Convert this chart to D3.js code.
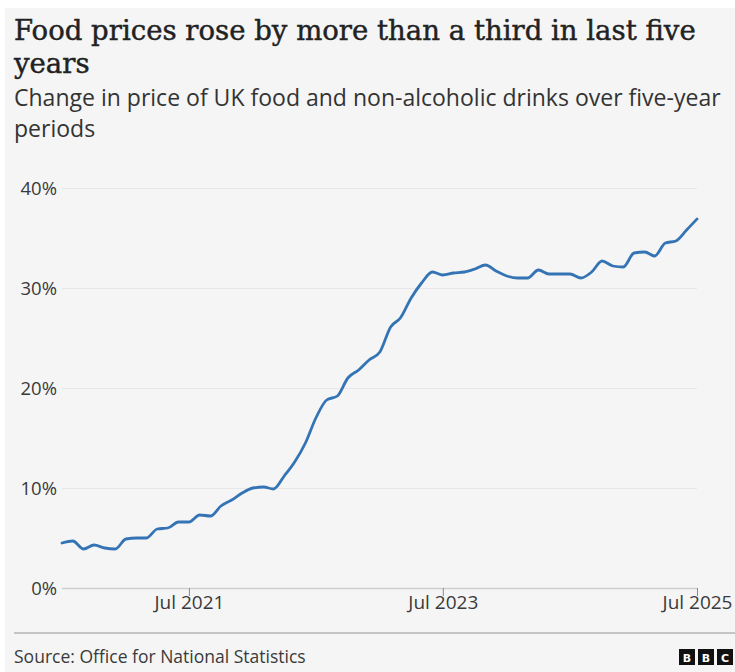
<!DOCTYPE html>
<html>
<head>
<meta charset="utf-8">
<script src="https://cdn.jsdelivr.net/npm/d3@7"></script>
<style>
  html, body { margin: 0; padding: 0; background: #ffffff; }
  svg { display: block; }
</style>
</head>
<body>
<svg id="chart" width="735" height="672"></svg>
<script>
// ---------- DATA ----------
const titleLines = ["Food prices rose by more than a third in last five", "years"];
const subtitleLines = ["Change in price of UK food and non-alcoholic drinks over five-year", "periods"];
const sourceText = "Source: Office for National Statistics";

const startMonth = "2020-07";
const endMonth = "2025-07";
// % change vs five years earlier, monthly Jul 2020 .. Jul 2025
const values = [
  4.5, 4.7, 3.9, 4.3, 4.0, 3.9, 4.9, 5.0, 5.0, 5.9, 6.0, 6.6,
  6.6, 7.3, 7.2, 8.2, 8.8, 9.5, 10.0, 10.1, 9.9, 11.2, 12.6, 14.5,
  17.0, 18.8, 19.2, 21.0, 21.8, 22.8, 23.6, 26.1, 27.0, 29.0, 30.5, 31.6,
  31.3, 31.5, 31.6, 31.9, 32.3, 31.7, 31.2, 31.0, 31.0, 31.8, 31.4, 31.4,
  31.4, 31.0, 31.6, 32.7, 32.2, 32.1, 33.5, 33.6, 33.2, 34.5, 34.7, 35.8,
  36.9
];
const yTicks = [0, 10, 20, 30, 40];
const xTickDates = ["2021-07", "2023-07", "2025-07"];
const xTickLabels = ["Jul 2021", "Jul 2023", "Jul 2025"];

// ---------- SETUP ----------
const parse = d3.timeParse("%Y-%m");
const months = d3.timeMonth.range(parse(startMonth), d3.timeMonth.offset(parse(endMonth), 1));
const data = months.map((d, i) => ({ date: d, value: values[i] }));

const svg = d3.select("#chart");
const W = 735, H = 672;
const serif = "'DejaVu Serif', 'Liberation Serif', serif";
const sans = "'Open Sans', 'Noto Sans', sans-serif";
const textCol = "#222222";
const axisCol = "#3a3a3a";

// panel background
svg.append("rect").attr("x", 5).attr("y", 8).attr("width", W - 5).attr("height", H - 8).attr("fill", "#f5f5f5");

function fitWidth(sel, target, startSize) {
  sel.attr("font-size", startSize);
  const w = sel.node().getComputedTextLength();
  const s = startSize * target / w;
  sel.attr("font-size", s);
  return s;
}

// title
const t1 = svg.append("text").attr("x", 14).attr("y", 40).attr("font-family", serif)
  .attr("fill", textCol).attr("stroke", textCol).attr("stroke-width", 0.45).text(titleLines[0]);
const tSize = fitWidth(t1, 682, 26);
svg.append("text").attr("x", 14).attr("y", 73).attr("font-family", serif)
  .attr("font-size", tSize).attr("fill", textCol).attr("stroke", textCol).attr("stroke-width", 0.45)
  .text(titleLines[1]);

// subtitle
const s1 = svg.append("text").attr("x", 14).attr("y", 106).attr("font-family", sans)
  .attr("fill", "#333").text(subtitleLines[0]);
const sSize = fitWidth(s1, 707, 18);
svg.append("text").attr("x", 14).attr("y", 137).attr("font-family", sans)
  .attr("font-size", sSize).attr("fill", "#333").text(subtitleLines[1]);

// scales
const x = d3.scaleTime().domain([parse(startMonth), parse(endMonth)]).range([62, 697]);
const y = d3.scaleLinear().domain([0, 40]).range([588, 188]);

// y gridlines + labels
const yAxis = d3.axisLeft(y).tickValues(yTicks).tickSize(-(697 - 62)).tickFormat(d => d + "%").tickPadding(6);
const gy = svg.append("g").attr("transform", "translate(62,0)").call(yAxis);
gy.select(".domain").remove();
gy.selectAll(".tick line").attr("stroke", d => d === 0 ? "#cfcfcf" : "#e7e7e7").attr("stroke-width", d => d === 0 ? 1.5 : 1);
gy.selectAll(".tick text").attr("font-family", sans).attr("font-size", 18.5).attr("fill", axisCol)
  .attr("x", -5).attr("dy", "0.35em");

// x ticks + labels
const xAxis = d3.axisBottom(x).tickValues(xTickDates.map(parse)).tickSize(8)
  .tickFormat((d, i) => xTickLabels[i]).tickPadding(2);
const gx = svg.append("g").attr("transform", "translate(0,588)").call(xAxis);
gx.select(".domain").remove();
gx.selectAll(".tick line").attr("stroke", "#8a8a8a").attr("y1", 0).attr("y2", 8);
gx.selectAll(".tick text").attr("font-family", sans).attr("font-size", 19).attr("fill", axisCol)
  .attr("y", 8).attr("dy", "0.71em");

// line
const line = d3.line().x(d => x(d.date)).y(d => y(d.value)).curve(d3.curveMonotoneX);
svg.append("path").datum(data).attr("d", line).attr("fill", "none")
  .attr("stroke", "#3474b5").attr("stroke-width", 2.8).attr("stroke-linejoin", "round").attr("stroke-linecap", "round");

// footer
svg.append("line").attr("x1", 14).attr("x2", W).attr("y1", 633).attr("y2", 633)
  .attr("stroke", "#b4b4b4").attr("stroke-width", 1.5);
const src = svg.append("text").attr("x", 14).attr("y", 663).attr("font-family", sans)
  .attr("fill", axisCol).text(sourceText);
fitWidth(src, 292, 16);

// BBC blocks
const letters = ["B", "B", "C"];
const logo = svg.append("g").attr("transform", "translate(679,649)");
letters.forEach((l, i) => {
  logo.append("rect").attr("x", i * 19).attr("y", 0).attr("width", 16).attr("height", 16).attr("fill", "#111");
  logo.append("text").attr("x", i * 19 + 8).attr("y", 12.5).attr("text-anchor", "middle")
    .attr("font-family", "'DejaVu Sans', sans-serif").attr("font-weight", "bold").attr("font-size", 11)
    .attr("fill", "#fff").text(l);
});
</script>
</body>
</html>
